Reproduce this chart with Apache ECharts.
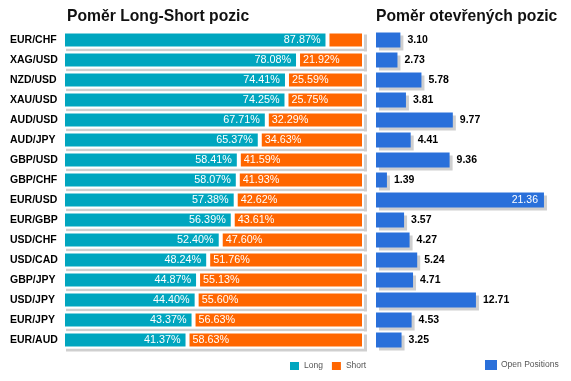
<!DOCTYPE html>
<html><head><meta charset="utf-8">
<script src="https://cdn.jsdelivr.net/npm/echarts@6/dist/echarts.min.js"></script>
<style>html,body{margin:0;padding:0;background:#fff}#c{width:571px;height:381px}</style>
</head><body><div id="c"></div>
<script>
var categories = ['EUR/CHF','XAG/USD','NZD/USD','XAU/USD','AUD/USD','AUD/JPY','GBP/USD','GBP/CHF','EUR/USD','EUR/GBP','USD/CHF','USD/CAD','GBP/JPY','USD/JPY','EUR/JPY','EUR/AUD'];
var longVals = [87.87,78.08,74.41,74.25,67.71,65.37,58.41,58.07,57.38,56.39,52.40,48.24,44.87,44.40,43.37,41.37];
var shortVals = [12.13,21.92,25.59,25.75,32.29,34.63,41.59,41.93,42.62,43.61,47.60,51.76,55.13,55.60,56.63,58.63];
var openVals = [3.10,2.73,5.78,3.81,9.77,4.41,9.36,1.39,21.36,3.57,4.27,5.24,4.71,12.71,4.53,3.25];
var totalVals = longVals.map(function (v, i) { return v + shortVals[i]; });

var FONT = 'Liberation Sans, Arial, sans-serif';
var TEAL = '#00A6BF', ORANGE = '#FF6600', BLUE = '#2A70DA', SHADOW = '#cfcfcf';

var chart = echarts.init(document.getElementById('c'), null, {renderer: 'canvas'});
chart.setOption({
  animation: false,
  textStyle: {fontFamily: FONT},
  title: [
    {text: 'Poměr Long-Short pozic', left: 67, top: 9, padding: 0, textStyle: {fontFamily: FONT, fontSize: 15.7, fontWeight: 'bold', color: '#111'}},
    {text: 'Poměr otevřených pozic', left: 376, top: 9, padding: 0, textStyle: {fontFamily: FONT, fontSize: 15.7, fontWeight: 'bold', color: '#111'}}
  ],
  legend: [
    {data: ['Long', 'Short'], left: 288, top: 360, padding: 0, itemWidth: 11, itemHeight: 10, itemGap: 7, icon: 'rect',
     textStyle: {fontFamily: FONT, fontSize: 8.5, color: '#555', padding: [0, 0, 0, -1]}},
    {data: ['Open Positions'], left: 485, top: 360, padding: 0, itemWidth: 12, itemHeight: 10, icon: 'rect',
     textStyle: {fontFamily: FONT, fontSize: 8.5, color: '#555', padding: [0, 0, 0, -1]}}
  ],
  grid: [
    {left: 63, width: 301, top: 30, height: 320},
    {left: 376, width: 173, top: 30, height: 320}
  ],
  xAxis: [
    {gridIndex: 0, type: 'value', min: 0, max: 100, show: false},
    {gridIndex: 1, type: 'value', min: 0, max: 22, show: false}
  ],
  yAxis: [
    {gridIndex: 0, type: 'category', data: categories, inverse: true,
     axisLine: {show: false}, axisTick: {show: false}, splitLine: {show: false},
     axisLabel: {align: 'left', margin: 53, fontFamily: FONT, fontSize: 10.5, fontWeight: 'bold', color: '#000'}},
    {gridIndex: 1, type: 'category', data: categories, inverse: true, show: false}
  ],
  series: [
    {name: 'shadowLS', type: 'bar', stack: 'bg', xAxisIndex: 0, yAxisIndex: 0, barWidth: 17, barGap: '-100%', z: 1,
     data: totalVals, silent: true, legendHoverLink: false,
     itemStyle: {color: '#fff', shadowColor: SHADOW, shadowBlur: 0, shadowOffsetX: 3, shadowOffsetY: 3}},
    {name: 'Long', type: 'bar', stack: 'ls', xAxisIndex: 0, yAxisIndex: 0, barWidth: 17, barGap: '-100%', z: 2,
     data: longVals,
     itemStyle: {color: TEAL, borderColor: '#fff', borderWidth: 2},
     label: {show: true, position: 'insideRight', distance: 7, color: '#fff', fontFamily: FONT, fontSize: 10.8,
             formatter: function (p) { return p.value.toFixed(2) + '%'; }}},
    {name: 'Short', type: 'bar', stack: 'ls', xAxisIndex: 0, yAxisIndex: 0, barWidth: 17, barGap: '-100%', z: 2,
     data: shortVals.map(function (v, i) { return i === 0 ? {value: v, label: {show: false}} : v; }),
     itemStyle: {color: ORANGE, borderColor: '#fff', borderWidth: 2},
     label: {show: true, position: 'insideLeft', distance: 5, color: '#fff', fontFamily: FONT, fontSize: 10.8,
             formatter: function (p) { return p.value.toFixed(2) + '%'; }}},
    {name: 'Open Positions', type: 'bar', xAxisIndex: 1, yAxisIndex: 1, barWidth: 15,
     data: openVals.map(function (v) {
       return v > 15 ? {value: v, label: {position: 'insideRight', color: '#fff', fontWeight: 'normal', distance: 6}} : v;
     }),
     itemStyle: {color: BLUE, shadowColor: SHADOW, shadowBlur: 0, shadowOffsetX: 3, shadowOffsetY: 3},
     label: {show: true, position: 'right', distance: 7, color: '#000', fontFamily: FONT, fontSize: 10.5, fontWeight: 'bold',
             formatter: function (p) { return p.value.toFixed(2); }}}
  ]
});
</script></body></html>
